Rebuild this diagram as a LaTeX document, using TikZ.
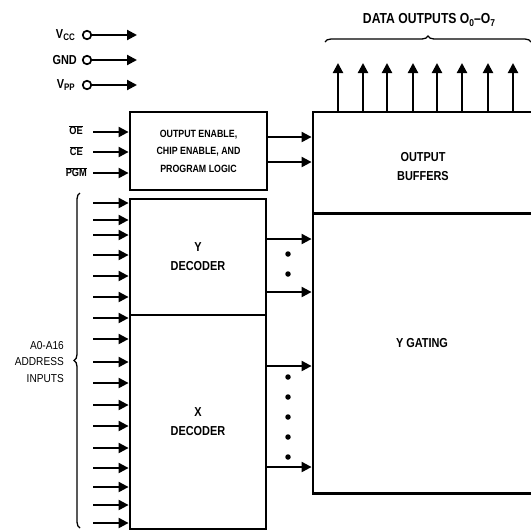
\documentclass[tikz,border=0pt]{standalone}
\usepackage{fontspec}
\setmainfont{Liberation Sans}[FakeStretch=0.84]
\newfontfamily\addrfont{Liberation Sans}[FakeStretch=0.88]
\usetikzlibrary{arrows.meta,decorations.pathreplacing}
\begin{document}
\begin{tikzpicture}[x=1pt,y=-1pt,
  box/.style={draw, line width=2.8pt, inner sep=0pt, align=center,
    font=\bfseries\fontsize{13}{19}\selectfont},
  arr/.style={line width=2.1pt, -{Triangle[length=10pt,width=10pt]}},
  pin/.style={circle, draw, line width=1.7pt, minimum size=8.5pt, inner sep=0pt},
  lbl/.style={inner sep=0pt, font=\bfseries\fontsize{13}{15}\selectfont},
  sig/.style={inner sep=0pt, anchor=east, font=\bfseries\fontsize{11}{13}\selectfont},
  dot/.style={circle, fill, inner sep=0pt, minimum size=5.5pt},
  brc/.style={decorate, decoration={brace, amplitude=6pt}, line width=1.3pt}]
\clip (0,0) rectangle (531,531);

% boxes
\node[box, minimum width=137pt, minimum height=78pt,
  font=\bfseries\fontsize{10.5}{17.5}\selectfont] (logic) at (198.5,151)
  {OUTPUT ENABLE,\\CHIP ENABLE, AND\\PROGRAM LOGIC};
\node[box, minimum width=136pt, minimum height=116pt] (ydec) at (198,257) {Y\\DECODER};
\node[box, minimum width=136pt, minimum height=214pt] (xdec) at (198,422) {X\\DECODER};
\node[box, minimum width=221pt, minimum height=101pt] (buf) at (423.5,162.5) {};
\node[lbl, align=center, font=\bfseries\fontsize{13}{19}\selectfont] (buftxt) at (423,167) {OUTPUT\\BUFFERS};
\node[box, minimum width=221pt, minimum height=280pt] (gate) at (423.5,353.5) {};
\node[lbl] (gatetxt) at (422,343) {Y GATING};

% supply pins
\node[pin] (vcc) at (87,35) {};
\node[pin] (gnd) at (87,60) {};
\node[pin] (vpp) at (87,85) {};
\node[lbl, anchor=east] (vccl) at (75,35) {V\raisebox{-0.35ex}{\fontsize{9.5}{10}\selectfont CC}};
\node[lbl, anchor=east] (gndl) at (77,60) {GND};
\node[lbl, anchor=east] (vppl) at (75,85) {V\raisebox{-0.35ex}{\fontsize{9.5}{10}\selectfont PP}};
\coordinate (vcce) at (137,35);
\coordinate (gnde) at (137,60);
\coordinate (vppe) at (137,85);
\draw[arr] (vcc) -- (vcce);
\draw[arr] (gnd) -- (gnde);
\draw[arr] (vpp) -- (vppe);

% control inputs
\node[sig] (oel) at (83,130) {$\overline{\hbox{OE}}$};
\node[sig] (cel) at (83,151) {$\overline{\hbox{CE}}$};
\node[sig] (pgml) at (87,172) {$\overline{\hbox{PGM}}$};
\coordinate (oe) at (93,132);
\coordinate (ce) at (93,152);
\coordinate (pgm) at (93,173);
\draw[arr] (oe) -- (oe -| logic.west);
\draw[arr] (ce) -- (ce -| logic.west);
\draw[arr] (pgm) -- (pgm -| logic.west);

% logic to buffers
\coordinate (lb1) at (267,137);
\coordinate (lb2) at (267,162);
\draw[arr] (lb1) -- (lb1 -| buf.west);
\draw[arr] (lb2) -- (lb2 -| buf.west);

% data outputs
\foreach \x [count=\i] in {338,363,387,413,437,462,488,513} {
  \coordinate (o\i) at (\x,63);
  \draw[arr] (o\i |- buf.north) -- (o\i);
}
\coordinate (bl) at (325,42);
\coordinate (br) at (531,42);
\draw[brc] (bl) -- (br);
\node[lbl, font=\bfseries\fontsize{14.5}{16}\selectfont] (datal) at (429,20) {DATA OUTPUTS O\raisebox{-0.4ex}{\fontsize{10}{11}\selectfont 0}--O\raisebox{-0.4ex}{\fontsize{10}{11}\selectfont 7}};

% address inputs
\foreach \y [count=\i] in {203,220,235,255,276,297,318,339,362,383,405,426,448,468,487,505,523} {
  \coordinate (a\i) at (93,\y);
  \draw[arr] (a\i) -- (a\i -| ydec.west);
}
\coordinate (abot) at (80,528);
\coordinate (atop) at (80,193);
\draw[brc] (abot) -- (atop);
\node[inner sep=0pt, anchor=east, align=right, font=\addrfont\fontsize{11.5}{16.5}\selectfont] (addr) at (64,362)
  {A0-A16\\ADDRESS\\INPUTS};

% decoder to gating
\foreach \y [count=\i] in {239,292,366,467} {
  \coordinate (d\i) at (267,\y);
  \draw[arr] (d\i) -- (d\i -| gate.west);
}
\foreach \y [count=\i] in {254,274,377,397,417,437,457} {
  \node[dot] (dt\i) at (288,\y) {};
}
\end{tikzpicture}
\end{document}
